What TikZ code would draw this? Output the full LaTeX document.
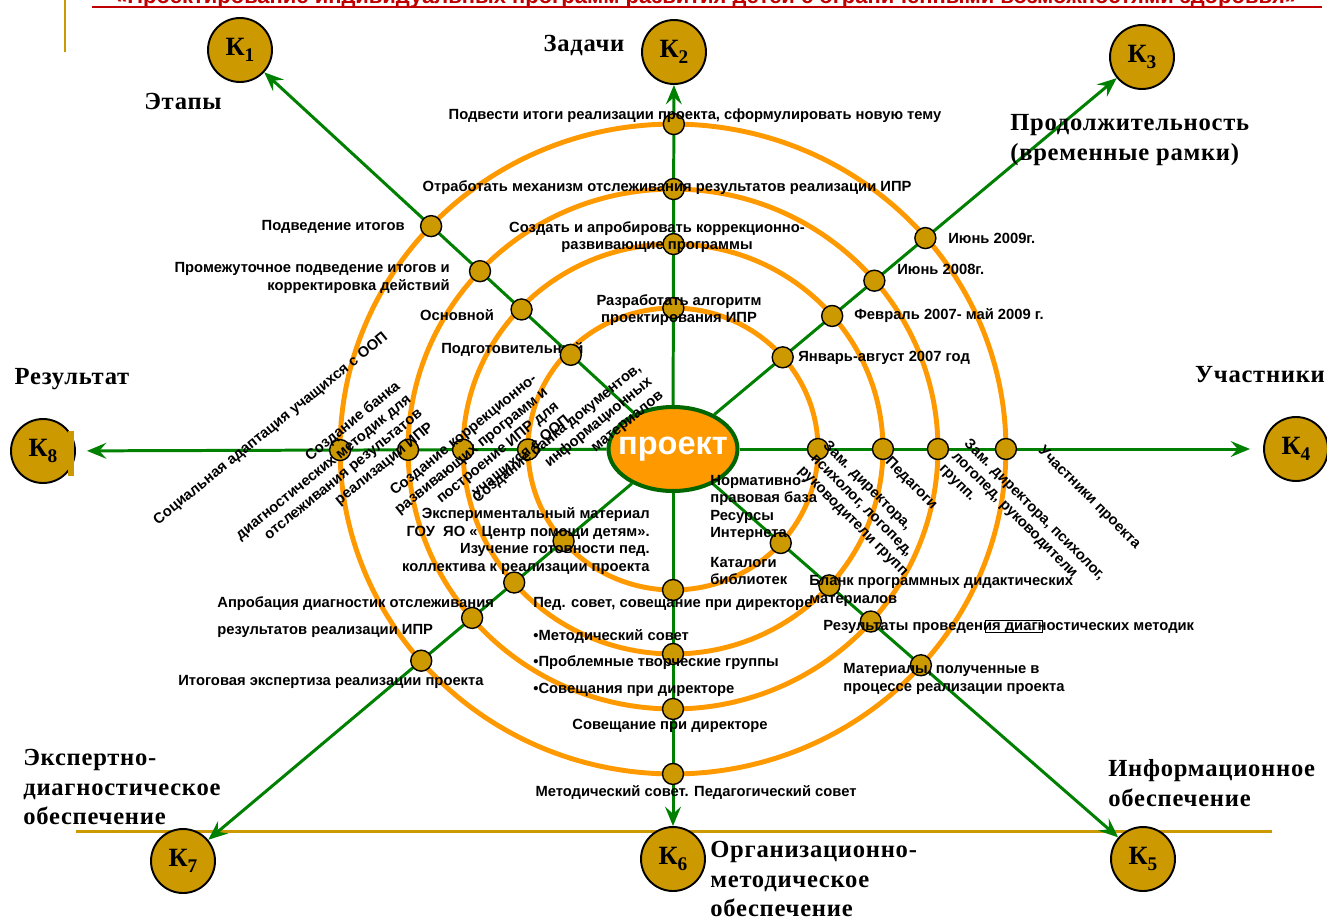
\documentclass[tikz,border=0pt]{standalone}
\usepackage{fontspec}
\setmainfont{Liberation Sans}
\newfontfamily\headfont[LetterSpace=3]{Liberation Serif}
\usetikzlibrary{arrows.meta,calc,shapes.geometric}
\definecolor{ringOrange}{HTML}{FF9900}
\definecolor{axisGreen}{HTML}{008000}
\definecolor{projGreen}{HTML}{006600}
\definecolor{dotGold}{HTML}{CC9900}
\definecolor{titleRed}{HTML}{C00000}
\newcommand{\kname}[1]{К\raisebox{-0.45ex}{\fontsize{11}{11}\selectfont #1}}

\begin{document}
\begin{tikzpicture}[x=0.02cm, y=-0.02cm,
  lbl/.style={font=\fontsize{8.4}{10}\selectfont\bfseries, inner sep=0pt},
  head/.style={font=\headfont\fontsize{14}{17}\selectfont\bfseries, inner sep=0pt, align=left},
  kcirc/.style={circle, draw=black, line width=1.1pt, fill=dotGold, minimum size=1.28cm, inner sep=0pt,
    font=\headfont\fontsize{15}{15}\selectfont\bfseries},
  dot/.style={circle, draw=black, line width=0.8pt, fill=dotGold, minimum size=0.42cm, inner sep=0pt},
  ring/.style={ringOrange, line width=2.8pt},
  axis/.style={axisGreen, line width=1.7pt, -{Stealth[length=11pt, width=9pt, inset=4pt]}}]
  \useasboundingbox (0,0) rectangle (1327,920);

  % title strip, cut by the top edge
  \node[font=\fontsize{12.5}{14}\selectfont\bfseries, text=titleRed, anchor=base, inner sep=0pt] (title) at (706,3)
    {«Проектирование индивидуальных программ развития детей с ограниченными возможностями здоровья»};
  \draw[titleRed, line width=1pt] (92,7) -- (1322,7);
  \draw[dotGold, line width=1.7pt] (65,0) -- (65,52);
  \draw[dotGold, line width=1.7pt] (76,831) -- (1272,831);

  % rings
  \foreach \rx/\ry in {2.9/2.82, 4.2/4.1, 5.3/5.2, 6.66/6.5}
    \draw[ring] (673,449) ellipse [x radius=\rx cm, y radius=\ry cm];

  \node[ellipse, draw=projGreen, line width=2.3pt, fill=ringOrange, minimum width=2.58cm, minimum height=1.68cm,
    inner sep=0pt, text=white, font=\fontsize{18.5}{20}\selectfont\bfseries] (proj) at (673,449) {\makebox[0pt]{проект}};

  \node[kcirc] (k1) at (240,50) {\kname{1}};
  \node[kcirc] (k2) at (674,52) {\kname{2}};
  \node[kcirc] (k3) at (1142,57) {\kname{3}};
  \node[kcirc] (k4) at (1296,449) {\kname{4}};
  \node[kcirc] (k5) at (1143,859) {\kname{5}};
  \node[kcirc] (k6) at (673,859) {\kname{6}};
  \node[kcirc] (k7) at (183,861) {\kname{7}};
  \node[kcirc] (k8) at (43,451) {\kname{8}};
  \fill[dotGold] (68,431) rectangle (74,476);

  \draw[axis] (proj) -- (k1);
  \draw[axis] (proj) -- (k2);
  \draw[axis] (proj) -- (k3);
  \draw[axis, shorten >=0.26cm] (proj) -- (k4);
  \draw[axis] (proj) -- (k5);
  \draw[axis] (proj) -- (k6);
  \draw[axis] (proj) -- (k7);
  \draw[axis, shorten >=0.22cm] (proj) -- (k8);

  \node[lbl, anchor=west] (e1) at (441,349) {Подготовительный}; % under its dot

  % dots where the axes cross the rings
  \foreach \k/\dist in {k1/{2.78,4.12,5.25,6.58}, k3/{2.86,4.15,5.25,6.58}, k5/{2.86,4.15,5.25,6.58},
                        k7/{2.86,4.15,5.25,6.58}, k2/{2.82,4.1,5.2,6.5}, k6/{2.82,4.1,5.2,6.5},
                        k4/{2.9,4.2,5.3,6.66}, k8/{2.9,4.2,5.3,6.66}}
    \foreach \s [count=\i] in \dist
      \node[dot] (\k-\i) at ($(proj.center)!\s cm!(\k.center)$) {};

  % headings
  \node[head] (h1) at (183,101) {Этапы};
  \node[head] (h2) at (584,45) {Задачи};
  \node[head, anchor=west] (h3) at (1010,140) {Продолжительность\\(временные рамки)};
  \node[head] (h4) at (72,379) {Результат};
  \node[head] (h5) at (1260,375) {Участники};
  \node[head, anchor=west] (h6) at (1108,783) {Информационное\\обеспечение};
  \node[head, anchor=west] (h7) at (710,879) {Организационно-\\методическое\\обеспечение};
  \node[head, anchor=west] (h8) at (23,787) {Экспертно-\\диагностическое\\обеспечение};

  % tasks
  \node[lbl] (t4) at (695,116) {Подвести итоги реализации проекта, сформулировать новую тему};
  \node[lbl] (t3) at (667,188) {Отработать механизм отслеживания результатов реализации ИПР};
  \node[lbl, align=center] (t2) at (657,237) {Создать и апробировать коррекционно-\\развивающие программы};
  \node[lbl, align=center] (t1) at (679,310) {Разработать алгоритм\\проектирования ИПР};

  % stages
  \node[lbl, anchor=east] (e4) at (405,227) {Подведение итогов};
  \node[lbl, anchor=east, align=right] (e3) at (450,278) {Промежуточное подведение итогов и\\корректировка действий};
  \node[lbl] (e2) at (457,315) {Основной};

  % time frame
  \node[lbl, anchor=west] (p4) at (948,238) {Июнь 2009г.};
  \node[lbl, anchor=west] (p3) at (897,269) {Июнь 2008г.};
  \node[lbl, anchor=west] (p2) at (854,316) {Февраль 2007- май 2009 г.};
  \node[lbl, anchor=west] (p1) at (798,358) {Январь-август 2007 год};

  % participants
  \node[lbl, rotate=-45, anchor=north west, align=left] (u1) at (830,439) {Зам. директора,\\психолог, логопед,\\руководители групп};
  \node[lbl, rotate=-45, anchor=north west] (u2) at (892,455) {Педагоги};
  \node[lbl, rotate=-45, anchor=north west, align=left] (u3) at (971,437) {Зам. директора, психолог,\\логопед, руководители\\групп.};
  \node[lbl, rotate=-45, anchor=north west] (u4) at (1045,444) {Участники проекта};

  % information
  \node[lbl, anchor=west, align=left] (i1) at (710,508) {Нормативно-\\правовая база\\Ресурсы\\Интернета};
  \node[lbl, anchor=west, align=left] (i2) at (710,571) {Каталоги\\библиотек};
  \node[lbl, anchor=west, align=left] (i3) at (809,591) {Бланк программных дидактических\\материалов};
  \node[lbl, anchor=west] (i4) at (823,627) {Результаты проведения диагностических методик};
  \draw[line width=0.5pt] (985,620) rectangle (1042,632);
  \node[lbl, anchor=west, align=left] (i5) at (843,679) {Материалы, полученные в\\процессе реализации проекта};

  % organisation
  \node[lbl, anchor=west] (o1) at (533,604) {Пед. совет, совещание при директоре};
  \node[lbl, anchor=west, align=left, font=\fontsize{8.4}{15}\selectfont\bfseries] (o2) at (533,663)
    {•Методический совет\\•Проблемные творческие группы\\•Совещания при директоре};
  \node[lbl] (o3) at (670,726) {Совещание при директоре};
  \node[lbl] (o4) at (696,792) {Методический совет. Педагогический совет};

  % expertise
  \node[lbl, anchor=east, align=right] (x1) at (650,541)
    {Экспериментальный материал\\ГОУ\ \ ЯО «\ Центр помощи детям».\\Изучение готовности пед.\\коллектива к реализации проекта};
  \node[lbl, anchor=west, align=left, font=\fontsize{8.4}{15}\selectfont\bfseries] (x2) at (217,617)
    {Апробация диагностик отслеживания\\результатов реализации ИПР};
  \node[lbl, anchor=west] (x3) at (178,682) {Итоговая экспертиза реализации проекта};

  % results
  \node[lbl, rotate=39, anchor=north east, align=right] (r1) at (635,361) {Создание банка документов,\\информационных\\материалов};
  \node[lbl, rotate=39, anchor=north east, align=right] (r2) at (531,372) {Создание коррекционно-\\развивающих программ и\\построение ИПР для\\учащихся с ООП};
  \node[lbl, rotate=39, anchor=north east, align=right] (r3) at (394,379) {Создание банка\\диагностических методик для\\отслеживания результатов\\реализации ИПР};
  \node[lbl, rotate=39, anchor=north east] (r4) at (382,330) {Социальная адаптация учащихся с ООП};
\end{tikzpicture}
\end{document}
